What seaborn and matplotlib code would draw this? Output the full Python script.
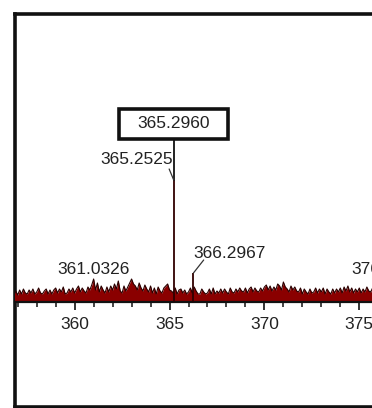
import numpy as np
import pandas as pd
import matplotlib
matplotlib.use("Agg")
import matplotlib.pyplot as plt
import seaborn as sns
from matplotlib.patches import Rectangle

sns.set_style("white")
plt.rcParams['font.family'] = ['Liberation Sans', 'DejaVu Sans']

# ---- data ----
mz_start = 356.8
mz_step = 0.1
noise = [
    8, 11, 7, 12, 8, 13, 9, 8, 12, 9,
    13, 8, 10, 14, 9, 8, 11, 13, 8, 12,
    8, 12, 14, 9, 13, 10, 15, 8, 9, 13,
    10, 14, 9, 13, 16, 10, 14, 11, 9, 15,
    12, 17, 23, 12, 19, 10, 16, 12, 9, 15,
    10, 16, 12, 18, 13, 21, 11, 9, 16, 11,
    15, 19, 23, 18, 16, 12, 19, 14, 11, 17,
    13, 10, 16, 9, 14, 8, 15, 11, 9, 14,
    16, 18, 12, 11, 9, 14, 8, 12, 13, 9,
    12, 8, 10, 14, 9, 15, 11, 8, 8, 13,
    10, 8, 9, 13, 8, 14, 8, 11, 9, 13,
    9, 13, 10, 8, 14, 10, 9, 13, 10, 14,
    11, 10, 14, 9, 13, 15, 10, 14, 11, 10,
    14, 11, 15, 17, 12, 16, 11, 15, 12, 18,
    16, 12, 20, 15, 13, 10, 16, 12, 15, 11,
    10, 14, 8, 13, 10, 8, 13, 9, 10, 14,
    9, 13, 10, 14, 8, 13, 10, 8, 13, 9,
    13, 10, 14, 9, 15, 11, 16, 10, 14, 9,
    13, 10, 14, 9, 13, 10, 15, 11, 10, 14,
]
noise_mz = [round(mz_start + i * mz_step, 2) for i in range(len(noise))]

peak_mz = [365.22, 366.26]
peak_int = [122, 29]

main_label = "365.2960"
labels = ["365.2525", "366.2967", "361.0326", "376.3001"]
label_mz = [363.25, 368.14, 360.99, 376.5]
label_int = [142, 49, 32, 32]

x_ticks = [360, 365, 370, 375]
x_minor = list(range(357, 376))

df = pd.DataFrame({"mz": noise_mz, "intensity": noise})

# ---- figure ----
W, H = 372, 408
fig = plt.figure(figsize=(W / 100, H / 100), dpi=100)

# outer frame
frame = fig.add_axes([14.5 / W, 1 / H, 1.2, (407 - 14) / H])
frame.set_xticks([]); frame.set_yticks([])
for s in ['left', 'top', 'bottom', 'right']:
    frame.spines[s].set_linewidth(2.6)
    frame.spines[s].set_color('#111111')
frame.set_facecolor('white')

# data axes
ax = fig.add_axes([14.5 / W, (H - 302) / H, (W - 14.5) / W, (302 - 14) / H])
ax.patch.set_alpha(0)
ax.set_xlim(356.83, 375.67)
ax.set_ylim(0, 288)

ax.fill_between(df["mz"], 0, df["intensity"], color='#8a0000', lw=0, zorder=2)
sns.lineplot(data=df, x="mz", y="intensity", color='#2a0000', lw=0.8, ax=ax, zorder=3)
ax.vlines(peak_mz, 0, peak_int, color='#300000', lw=1.3, zorder=4)

# main labeled peak with box
fs = 12.5
txt_col = '#222222'
ax.add_patch(Rectangle((362.35, 163), 368.09 - 362.35, 30, fill=True, fc='white',
                       ec='#111111', lw=2.6, zorder=5, clip_on=False))
ax.text(peak_mz[0], 178, main_label, ha='center', va='center', fontsize=fs,
        color=txt_col, zorder=6)
ax.plot([peak_mz[0], peak_mz[0]], [163, peak_int[0]], color='#111111', lw=1.3, zorder=4)

for t, xm, yi in zip(labels, label_mz, label_int):
    ax.text(xm, yi, t, ha='center', va='center', fontsize=fs, color=txt_col,
            zorder=6, clip_on=False)

# leader lines
ax.plot([364.98, peak_mz[0]], [133, peak_int[0]], color='#333333', lw=0.9, zorder=4)
ax.plot([366.26, 366.8], [peak_int[1], 42], color='#333333', lw=0.9, zorder=4)

# axis styling
sns.despine(ax=ax, left=True, top=True, right=True, bottom=False)
ax.spines['bottom'].set_linewidth(1.6)
ax.spines['bottom'].set_color('#111111')
ax.set_yticks([])
ax.set_xticks(x_ticks)
ax.set_xticklabels([str(v) for v in x_ticks])
ax.set_xticks(x_minor, minor=True)
ax.tick_params(axis='x', which='major', direction='out', length=6, width=1.2,
               colors='#111111', labelcolor=txt_col, labelsize=fs, pad=4.5, bottom=True)
ax.tick_params(axis='x', which='minor', direction='out', length=3.8, width=1.1,
               colors='#111111', bottom=True)
ax.set_xlabel("")
ax.set_ylabel("")

fig.savefig("out.png", dpi=100)
